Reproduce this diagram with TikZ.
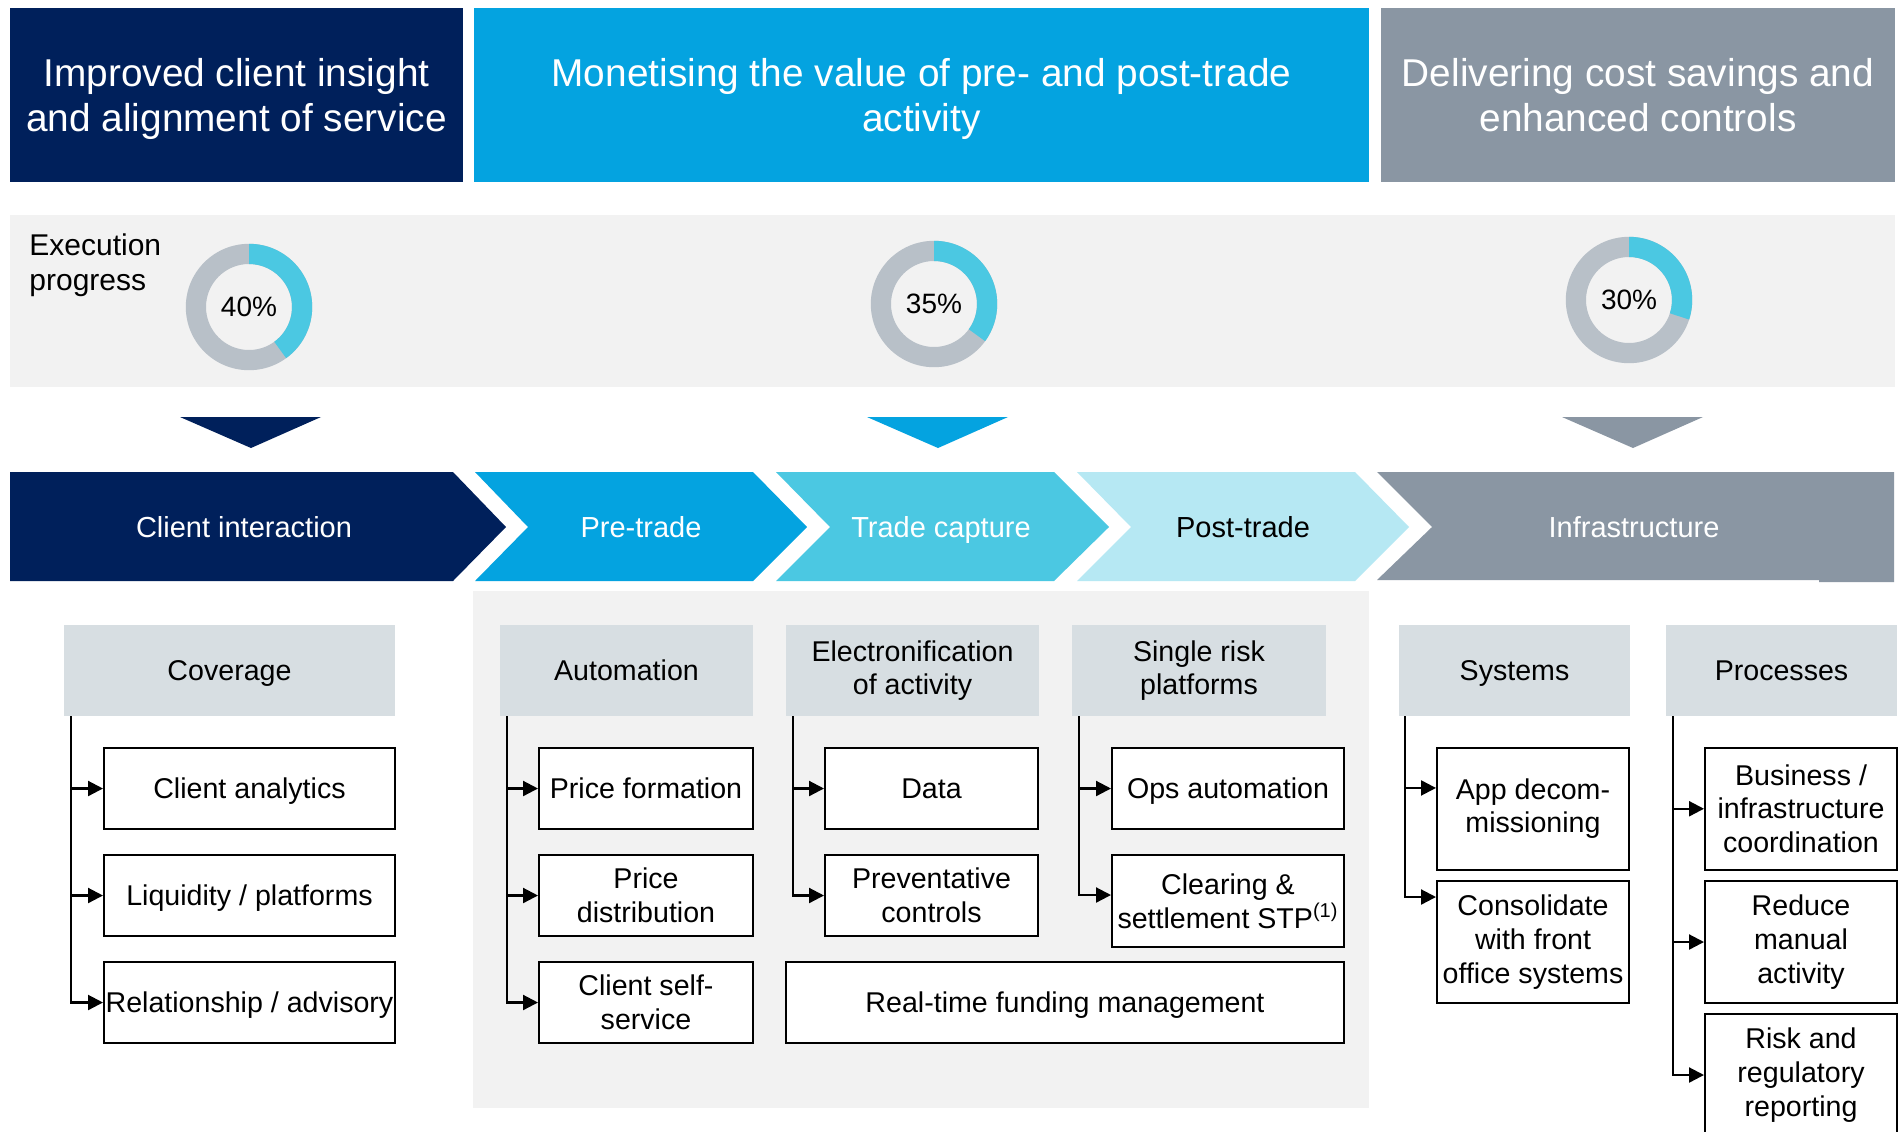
\documentclass[tikz,border=0pt]{standalone}
\usepackage{fontspec}
\setmainfont{Liberation Sans}
\usetikzlibrary{arrows.meta}
\definecolor{navy}{HTML}{00205B}
\definecolor{ublue}{HTML}{04A3E0}
\definecolor{ugray}{HTML}{8A96A3}
\definecolor{panel}{HTML}{F2F2F2}
\definecolor{subhd}{HTML}{D7DEE2}
\definecolor{tcap}{HTML}{4BC8E2}
\definecolor{ptrade}{HTML}{B6E8F3}
\definecolor{dgray}{HTML}{B8C0C8}
\newcommand\mydonut[5]{%
 \begin{scope}[shift={(#1,#2)}]
  \fill[dgray,even odd rule] (0,0) circle[radius=31.6pt] (0,0) circle[radius=21.5pt];
  \fill[tcap] (90:31.6pt) arc[start angle=90,end angle=#3,radius=31.6pt] -- (#3:21.5pt) arc[start angle=#3,end angle=90,radius=21.5pt] -- cycle;
  \node[font=\fontsize{14}{16}\selectfont,inner sep=0pt] (#5) at (0,0) {#4};
 \end{scope}}
\begin{document}
\begin{tikzpicture}[x=0.5pt,y=-0.5pt,
  hdr/.style={text=white,font=\fontsize{19.4}{22.5}\selectfont,align=center,inner sep=0pt},
  chev/.style={text=white,font=\fontsize{14.5}{16.5}\selectfont,inner sep=0pt,anchor=base},
  sub/.style={fill=subhd,inner sep=0pt,font=\fontsize{14.3}{16.5}\selectfont,align=center},
  sub1/.style={fill=subhd,inner sep=0pt,font=\fontsize{14.3}{16.5}\selectfont,text height=10.2pt,text depth=0pt},
  bx/.style={draw=black,line width=1pt,fill=white,inner sep=0pt,font=\fontsize{14.3}{16.8}\selectfont,align=center},
  bx1/.style={draw=black,line width=1pt,fill=white,inner sep=0pt,font=\fontsize{14.3}{16.8}\selectfont,text height=10.2pt,text depth=0pt},
  conn/.style={line width=1.1pt,-{Triangle[length=7.5pt,width=7.5pt]}}]
\useasboundingbox (0,0) rectangle (1900,1131);
\clip (0,0) rectangle (1900,1131);
\fill[white] (0,0) rectangle (1900,1131);
% top headers
\fill[navy] (10,8) rectangle (463,182);
\fill[ublue] (474,8) rectangle (1369,182);
\fill[ugray] (1381,8) rectangle (1895,182);
\node[hdr] (h1) at (236.5,99) {Improved client insight\\and alignment of service};
\node[hdr] (h2) at (921.5,99) {Monetising the value of pre- and post-trade\\activity};
\node[hdr] (h3) at (1638,95) {Delivering cost savings and\\enhanced controls};
% progress band
\fill[panel] (10,215) rectangle (1895,387);
\node[anchor=north west,inner sep=0pt,align=left,font=\fontsize{15}{17.5}\selectfont] (exe) at (29,233) {Execution\\progress};
\mydonut{249}{307}{-54}{40\%}{d1}
\mydonut{934}{304}{-36}{35\%}{d2}
\mydonut{1629}{300}{-18}{30\%}{d3}
% triangles
\fill[navy] (180,417) -- (321,417) -- (251,448) -- cycle;
\fill[ublue] (867,417) -- (1008,417) -- (938,448) -- cycle;
\fill[ugray] (1562,417) -- (1703,417) -- (1633,448) -- cycle;
% chevrons
\fill[navy] (10,472) -- (453,472) -- (506,527) -- (453,581) -- (10,581) -- cycle;
\fill[ublue] (475,472) -- (753,472) -- (807,527) -- (753,581) -- (475,581) -- (528,527) -- cycle;
\fill[tcap] (776,472) -- (1054,472) -- (1109,527) -- (1054,581) -- (776,581) -- (830,527) -- cycle;
\fill[ptrade] (1077,472) -- (1355,472) -- (1409,527) -- (1355,581) -- (1077,581) -- (1131,527) -- cycle;
\fill[ugray] (1377,472) -- (1894,472) -- (1894,582) -- (1819,582) -- (1819,580) -- (1377,580) -- (1432,527) -- cycle;
\node[chev] (c1) at (244,537) {Client interaction};
\node[chev] (c2) at (641,537) {Pre-trade};
\node[chev] (c3) at (941,537) {Trade capture};
\node[chev,text=black] (c4) at (1243,537) {Post-trade};
\node[chev] (c5) at (1634,537) {Infrastructure};
% middle panel
\fill[panel] (473,591) rectangle (1369,1108);
% Coverage
\node[sub1,minimum width=165.5pt,minimum height=45.5pt] (cov) at (229.5,670.5) {Coverage};
\node[bx1,minimum width=145.5pt,minimum height=40.5pt] (ca) at (249.5,788.5) {Client analytics};
\node[bx1,minimum width=145.5pt,minimum height=40.5pt] (li) at (249.5,895.5) {Liquidity / platforms};
\node[bx1,minimum width=145.5pt,minimum height=40.5pt] (re) at (249.5,1002.5) {Relationship / advisory};
% Automation
\node[sub1,minimum width=126.5pt,minimum height=45.5pt] (aut) at (626.5,670.5) {Automation};
\node[bx1,minimum width=107pt,minimum height=40.5pt] (pf) at (646,788.5) {Price formation};
\node[bx,minimum width=107pt,minimum height=40.5pt] (pd) at (646,895.5) {Price\\distribution};
\node[bx,minimum width=107pt,minimum height=40.5pt] (cs) at (646,1002.5) {Client self-\\service};
% Electronification
\node[sub,minimum width=126.5pt,minimum height=45.5pt] (ele) at (912.5,670.5) {Electronification\\of activity};
\node[bx1,minimum width=106.5pt,minimum height=40.5pt] (da) at (931.5,788.5) {Data};
\node[bx,minimum width=106.5pt,minimum height=40.5pt] (pc) at (931.5,895.5) {Preventative\\controls};
% Single risk
\node[sub,minimum width=127pt,minimum height=45.5pt] (srp) at (1199,670.5) {Single risk\\platforms};
\node[bx1,minimum width=116pt,minimum height=40.5pt] (ops) at (1228,788.5) {Ops automation};
\node[bx,minimum width=116pt,minimum height=46pt] (cl) at (1228,901) {Clearing \&\\settlement STP\textsuperscript{(1)}};
\node[bx1,minimum width=279pt,minimum height=40.5pt] (rt) at (1065,1002.5) {Real-time funding management};
% Systems
\node[sub1,minimum width=115.5pt,minimum height=45.5pt] (sys) at (1514.5,670.5) {Systems};
\node[bx,minimum width=96pt,minimum height=60.75pt] (app) at (1533,808.75) {App decom-\\missioning};
\node[bx,minimum width=96pt,minimum height=61pt] (con) at (1533,942) {Consolidate\\with front\\office systems};
% Processes
\node[sub1,minimum width=115.5pt,minimum height=45.5pt] (pro) at (1781.5,670.5) {Processes};
\node[bx,minimum width=96pt,minimum height=60.75pt] (bus) at (1801,808.75) {Business /\\infrastructure\\coordination};
\node[bx,minimum width=96pt,minimum height=61pt] (red) at (1801,942) {Reduce\\manual\\activity};
\node[bx,minimum width=96pt,minimum height=61pt] (rsk) at (1801,1075) {Risk and\\regulatory\\reporting};
% connectors
\coordinate (covL) at ([xshift=3.5pt]cov.south west);
\coordinate (autL) at ([xshift=3.5pt]aut.south west);
\coordinate (eleL) at ([xshift=3.5pt]ele.south west);
\coordinate (srpL) at ([xshift=3.5pt]srp.south west);
\coordinate (sysL) at ([xshift=3pt]sys.south west);
\coordinate (proL) at ([xshift=3.5pt]pro.south west);
\draw[conn] (covL) |- (ca);
\draw[conn] (covL) |- (li);
\draw[conn] (covL) |- (re);
\draw[conn] (autL) |- (pf);
\draw[conn] (autL) |- (pd);
\draw[conn] (autL) |- (cs);
\draw[conn] (eleL) |- (da);
\draw[conn] (eleL) |- (pc);
\draw[conn] (srpL) |- (ops);
\draw[conn] (srpL) |- ([yshift=3pt]cl.west);
\draw[conn] (sysL) |- ([yshift=10.4pt]app.west);
\draw[conn] (sysL) |- ([yshift=22.5pt]con.west);
\draw[conn] (proL) |- (bus);
\draw[conn] (proL) |- (red);
\draw[conn] (proL) |- (rsk);
\end{tikzpicture}
\end{document}
